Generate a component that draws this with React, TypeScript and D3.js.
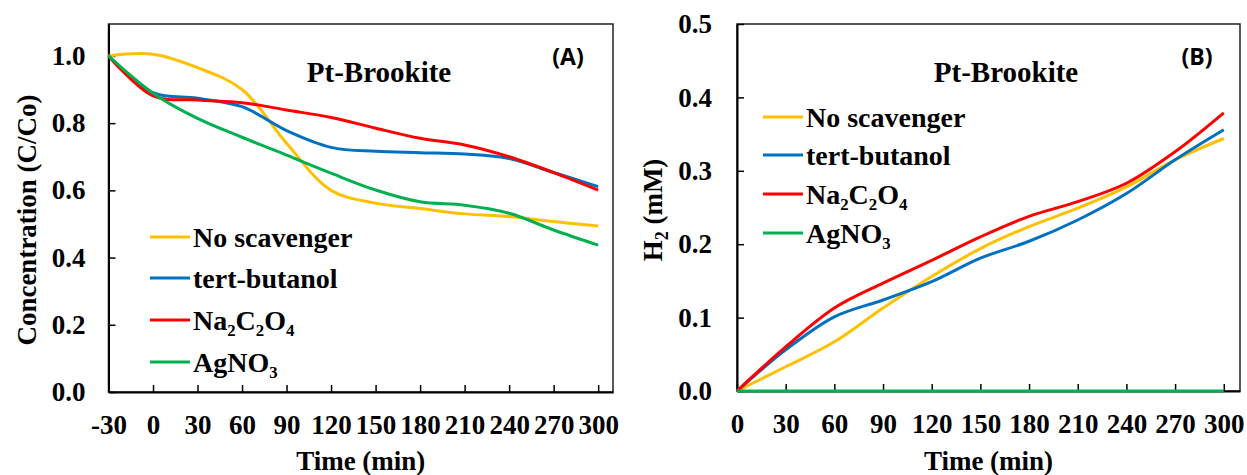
import * as d3 from "d3";
import { useEffect, useRef } from "react";

// panel A: dye concentration vs time
const timeA = [-30, 0, 30, 60, 90, 120, 150, 180, 210, 240, 270, 300];
const noScavA = [1.0, 1.005, 0.965, 0.9, 0.74, 0.6, 0.562, 0.546, 0.53, 0.522, 0.507, 0.494];
const tertButA = [1.0, 0.891, 0.874, 0.849, 0.778, 0.728, 0.716, 0.712, 0.708, 0.695, 0.653, 0.611];
const oxalateA = [1.0, 0.881, 0.869, 0.861, 0.839, 0.817, 0.785, 0.755, 0.735, 0.7, 0.653, 0.601];
const silverA = [1.0, 0.889, 0.814, 0.758, 0.705, 0.651, 0.601, 0.566, 0.556, 0.532, 0.482, 0.437];

// panel B: H2 evolution vs time
const timeB = [0, 30, 60, 90, 120, 150, 180, 210, 240, 270, 300];
const noScavB = [0, 0.033, 0.067, 0.113, 0.156, 0.194, 0.224, 0.249, 0.278, 0.315, 0.344];
const tertButB = [0, 0.056, 0.101, 0.124, 0.149, 0.181, 0.204, 0.233, 0.269, 0.315, 0.356];
const oxalateB = [0, 0.06, 0.113, 0.147, 0.178, 0.21, 0.238, 0.258, 0.283, 0.326, 0.379];
const silverB = [0, 0, 0, 0, 0, 0, 0, 0, 0, 0, 0];

const seriesNames = ["No scavenger", "tert-butanol", "Na\u2082C\u2082O\u2084", "AgNO\u2083"];
const colors = ["#FFC000", "#0070C0", "#FF0000", "#00B050"];

const ticksA = [-30, 0, 30, 60, 90, 120, 150, 180, 210, 240, 270, 300];
const ticksB = [0, 30, 60, 90, 120, 150, 180, 210, 240, 270, 300];
const yTicksA = [0, 0.2, 0.4, 0.6, 0.8, 1.0];
const yTicksB = [0, 0.1, 0.2, 0.3, 0.4, 0.5];

const serif = "'Liberation Serif', 'Times New Roman', serif";

function drawPanel(svg, o) {
    const x = d3.scaleLinear().domain(o.xDomain).range([o.left, o.right]);
    const y = d3.scaleLinear().domain(o.yDomain).range([o.bottom, o.top]);
    const g = svg.append("g");

    // frame
    g.append("rect")
        .attr("x", o.left).attr("y", o.top)
        .attr("width", o.right - o.left).attr("height", o.bottom - o.top)
        .attr("fill", "none").attr("stroke", "#222").attr("stroke-width", 1.5);

    const xAxis = d3.axisBottom(x).tickValues(o.xTicks).tickSizeInner(-7).tickSizeOuter(0)
        .tickPadding(23).tickFormat(d => String(d));
    const gx = g.append("g").attr("transform", `translate(0,${o.bottom})`).call(xAxis);
    gx.select(".domain").attr("stroke-width", 2);
    gx.selectAll(".tick line").attr("stroke-width", 1.5);
    gx.selectAll("text")
        .attr("font-family", serif).attr("font-weight", "bold").attr("font-size", 27)
        .attr("fill", "#000");

    const yAxis = d3.axisLeft(y).tickValues(o.yTicks).tickSizeInner(-7).tickSizeOuter(0)
        .tickPadding(o.yPad).tickFormat(d3.format(".1f"));
    const gy = g.append("g").attr("transform", `translate(${o.left},0)`).call(yAxis);
    gy.select(".domain").attr("stroke-width", 2);
    gy.selectAll(".tick line").attr("stroke-width", 1.5);
    gy.selectAll("text")
        .attr("font-family", serif).attr("font-weight", "bold").attr("font-size", 27)
        .attr("fill", "#000");

    const line = d3.line()
        .x(d => x(d[0]))
        .y(d => y(d[1]))
        .curve(d3.curveCatmullRom.alpha(0.5));

    o.series.forEach((vals, i) => {
        const pts = o.times.map((t, j) => [t, vals[j]]);
        g.append("path")
            .attr("d", line(pts))
            .attr("fill", "none")
            .attr("stroke", colors[i])
            .attr("stroke-width", 3);
    });

    // legend
    o.legendRows.forEach((ly, i) => {
        g.append("line")
            .attr("x1", o.legendX).attr("x2", o.legendX + 40)
            .attr("y1", ly).attr("y2", ly)
            .attr("stroke", colors[i]).attr("stroke-width", 3);
        g.append("text")
            .attr("x", o.legendX + 43).attr("y", ly)
            .attr("dy", "0.35em")
            .attr("font-family", serif).attr("font-weight", "bold").attr("font-size", 28)
            .text(seriesNames[i]);
    });

    g.append("text")
        .attr("x", o.titleX).attr("y", 82)
        .attr("text-anchor", "middle")
        .attr("font-family", serif).attr("font-weight", "bold").attr("font-size", 29)
        .text("Pt-Brookite");

    g.append("text")
        .attr("x", o.tagX).attr("y", 65)
        .attr("text-anchor", "middle")
        .attr("font-family", "'Open Sans', 'Liberation Sans', sans-serif").attr("font-weight", "bold").attr("font-size", 23)
        .text(o.tag);

    g.append("text")
        .attr("x", (o.left + o.right) / 2).attr("y", 470)
        .attr("text-anchor", "middle")
        .attr("font-family", serif).attr("font-weight", "bold").attr("font-size", 27)
        .text("Time (min)");

    const yt = g.append("text")
        .attr("transform", `translate(${o.yTitleX},${o.yTitleY}) rotate(-90)`)
        .attr("text-anchor", "middle")
        .attr("font-family", serif).attr("font-weight", "bold").attr("font-size", 27);
    if (o.yTitleSub) {
        yt.append("tspan").text("H");
        yt.append("tspan").attr("font-size", 18).attr("dy", 6).text("2");
        yt.append("tspan").attr("dy", -6).text(" (mM)");
    } else {
        yt.text(o.yTitle);
    }
}

const App = () => {
    const ref = useRef(null);

    useEffect(() => {
        const svg = d3.select(ref.current);
        svg.selectAll("*").remove();

        drawPanel(svg, {
            left: 108.5, right: 613, top: 24, bottom: 392,
            xDomain: [-30, 310], yDomain: [0, 1.095],
            xTicks: ticksA, yTicks: yTicksA, yPad: 23,
            times: timeA, series: [noScavA, tertButA, oxalateA, silverA],
            legendX: 150, legendRows: [237, 278, 320, 362],
            titleX: 379, tagX: 568, tag: "(A)",
            yTitleX: 36, yTitleY: 220, yTitle: "Concentration (C/Co)"
        });

        drawPanel(svg, {
            left: 737, right: 1240, top: 24, bottom: 391,
            xDomain: [0, 310], yDomain: [0, 0.5],
            xTicks: ticksB, yTicks: yTicksB, yPad: 25,
            times: timeB, series: [noScavB, tertButB, oxalateB, silverB],
            legendX: 763, legendRows: [117, 155, 194, 233],
            titleX: 1006, tagX: 1197, tag: "(B)",
            yTitleX: 662, yTitleY: 210, yTitleSub: true
        });
    }, []);

    return (
        <div style={{ position: "absolute", left: 0, top: 0 }}>
            <svg ref={ref} width={1247} height={475} style={{ display: "block", background: "#fff" }}></svg>
        </div>
    );
};

export default App;
